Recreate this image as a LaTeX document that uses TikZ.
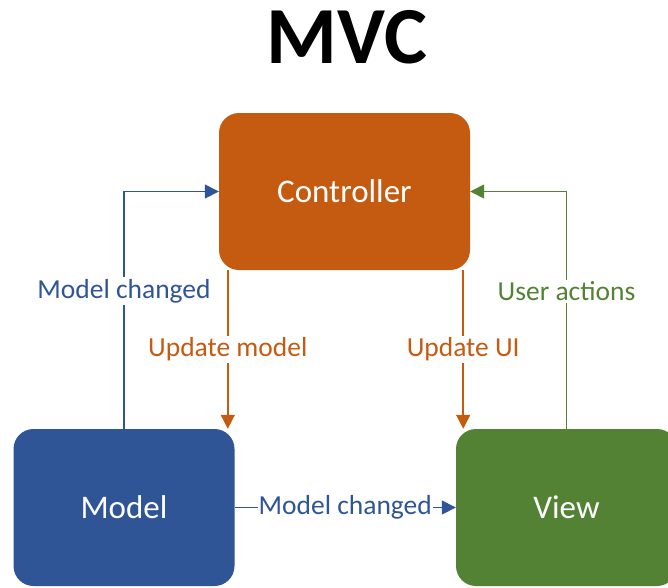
\documentclass[tikz,border=0pt]{standalone}
\usepackage{fontspec}
\setmainfont{Carlito}
\usetikzlibrary{arrows.meta}
\definecolor{corange}{HTML}{C55A11}
\definecolor{cblue}{HTML}{2F5597}
\definecolor{cgreen}{HTML}{548235}
\begin{document}
\begin{tikzpicture}[x=1pt,y=-1pt,
  box/.style={rounded corners=20pt, draw=none, text=white, minimum height=157pt,
    font=\fontsize{33}{38}\selectfont, inner sep=0pt},
  conn/.style={line width=1.5pt, -{Triangle[length=14pt,width=14pt]}},
  lbl/.style={fill=white, inner sep=2pt, font=\fontsize{27.5}{32}\selectfont}]
\clip (0,0) rectangle (668,587);
\fill[white] (0,0) rectangle (668,587);
\node[anchor=base, font=\bfseries\fontsize{81}{90}\selectfont] (title) at (347,63) {MVC};
\node[box, fill=corange, minimum width=251pt] (controller) at (344.5,191.5) {Controller};
\node[box, fill=cblue, minimum width=221pt] (model) at (124,507.5) {Model};
\node[box, fill=cgreen, minimum width=221pt] (view) at (566.5,507.5) {View};
% Model changed (up to controller)
\draw[conn, cblue] (model.north) |- node[lbl, text=cblue, pos=0.29] (l1) {Model changed} (controller.west);
% User actions
\draw[conn, cgreen] (view.north) |- node[lbl, text=cgreen, pos=0.29] (l2) {User actions} (controller.east);
% Update model
\draw[conn, corange] ([xshift=9pt]controller.south west) -- ([xshift=9pt]controller.south west |- model.north)
  node[lbl, text=corange, midway] (l3) {Update model};
% Update UI
\draw[conn, corange] ([xshift=-7pt]controller.south east) -- ([xshift=-7pt]controller.south east |- view.north)
  node[lbl, text=corange, midway] (l4) {Update UI};
% Model changed (model to view)
\draw[conn, cblue] (model.east) -- node[lbl, text=cblue, inner sep=1pt] (l5) {Model changed} (view.west);
\end{tikzpicture}
\end{document}
